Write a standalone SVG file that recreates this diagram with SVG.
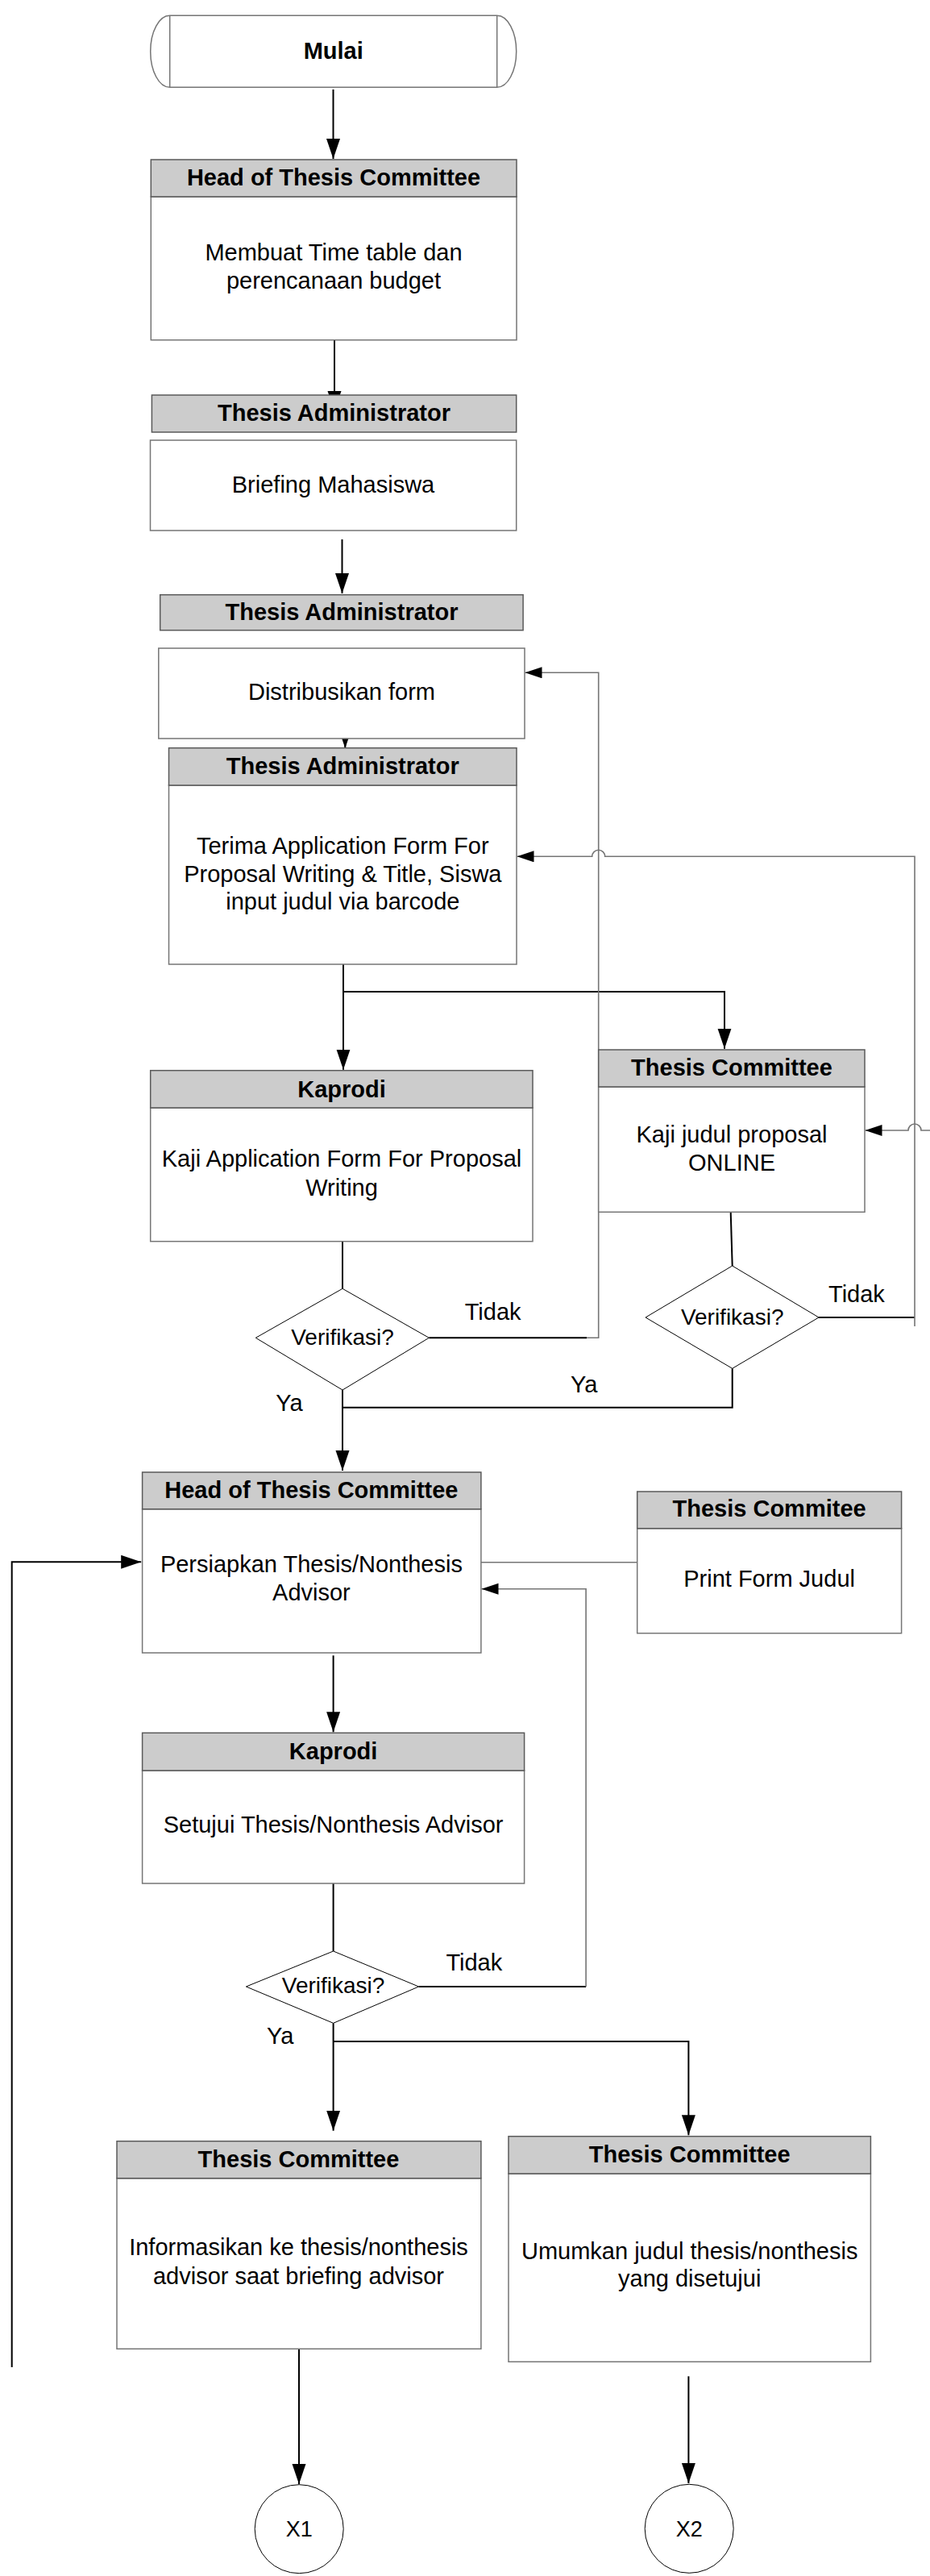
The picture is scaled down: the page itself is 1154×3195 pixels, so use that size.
<svg xmlns="http://www.w3.org/2000/svg" width="1154" height="3195" viewBox="0 0 1154 3195">
<style>
.t{font-family:"Liberation Sans",Arial,Helvetica,sans-serif;font-size:29px;text-anchor:middle;fill:#000}
.b{font-weight:bold}
.l{text-anchor:start}
.hd{fill:#cccccc;stroke:#5a5a5a;stroke-width:1.5}
.bd{fill:#fff;stroke:#757575;stroke-width:1.5}
.dm{fill:#fff;stroke:#000;stroke-width:1}
.k{fill:none;stroke:#000;stroke-width:2}
.g{fill:none;stroke:#757575;stroke-width:1.6}
</style>
<defs>
<marker id="ab" markerUnits="userSpaceOnUse" markerWidth="26" markerHeight="18" refX="25" refY="8.5" orient="auto"><path d="M0,0 L25,8.5 L0,17 z" fill="#000"/></marker>
<marker id="as" markerUnits="userSpaceOnUse" markerWidth="22" markerHeight="15" refX="21" refY="7" orient="auto"><path d="M0,0 L21,7 L0,14 z" fill="#000"/></marker>
</defs>
<rect width="1154" height="3195" fill="#fff"/>
<g id="connectors">
<path class="k" d="M413.5,111 V197" marker-end="url(#ab)"/>
<path class="k" d="M415,421.7 V510" marker-end="url(#ab)"/>
<path class="k" d="M424.5,669 V736" marker-end="url(#ab)"/>
<path class="k" d="M428.3,905 V928" marker-end="url(#ab)"/>
<path class="k" d="M426,1196 V1326.7" marker-end="url(#ab)"/>
<path class="k" d="M426,1230 H899 V1300.7" marker-end="url(#ab)"/>
<path class="k" d="M425,1539.7 V1598.3"/>
<path class="k" d="M532.3,1659.3 H728"/>
<path class="g" d="M728,1659.3 H742.7 V834.3 H651.5" marker-end="url(#as)"/>
<path class="k" d="M425,1724 V1824" marker-end="url(#ab)"/>
<path class="k" d="M906.7,1503.3 L908.7,1570"/>
<path class="k" d="M1016,1634 H1135"/>
<path class="g" d="M1135,1645 V1062.3 H750.7 A8,8 0 0 0 734.7,1062.3 H641.5" marker-end="url(#as)"/>
<path class="k" d="M908.7,1697.3 V1745.7 H425"/>
<path class="g" d="M1154,1402 H1143 A8,8 0 0 0 1127,1402 H1073.5" marker-end="url(#as)"/>
<path class="g" d="M597,1937.7 H790.7"/>
<path class="k" d="M413.6,2053.3 V2148.3" marker-end="url(#ab)"/>
<path class="k" d="M413.6,2336 V2420"/>
<path class="k" d="M519.6,2464 H727.1"/>
<path class="g" d="M727.1,2464 V1970.7 H597.5" marker-end="url(#as)"/>
<path class="k" d="M413.6,2509.3 V2642.7" marker-end="url(#ab)"/>
<path class="k" d="M413.6,2532 H854.4 V2648.3" marker-end="url(#ab)"/>
<path class="k" d="M371,2913.3 V3081" marker-end="url(#ab)"/>
<path class="k" d="M854.4,2947.3 V3080" marker-end="url(#ab)"/>
<path class="k" d="M14.7,2936 V1937.3 H175.2" marker-end="url(#ab)"/>
</g>
<g id="mulai">
<path d="M210.7,19.3 H616.7 A24,44.5 0 0 1 616.7,108.3 H210.7 A24,44.5 0 0 1 210.7,19.3 Z" fill="#fff" stroke="#757575" stroke-width="1.5"/>
<path d="M210.7,19.3 V108.3 M616.7,19.3 V108.3" stroke="#757575" stroke-width="1.5"/>
<text class="t b" x="413.7" y="72.7">Mulai</text>
</g>
<g id="head1">
<rect class="bd" x="187.3" y="244" width="453.7" height="177.7"/>
<rect class="hd" x="187.3" y="198" width="453.7" height="46"/>
<text class="t b" x="414" y="230">Head of Thesis Committee</text>
<text class="t" x="414" y="323.3">Membuat Time table dan</text>
<text class="t" x="414" y="358.3">perencanaan budget</text>
</g>
<g id="ta1">
<rect class="hd" x="188.4" y="490" width="452.3" height="46"/>
<rect class="bd" x="186.5" y="546" width="454.2" height="112"/>
<text class="t b" x="414.5" y="522">Thesis Administrator</text>
<text class="t" x="413.5" y="611">Briefing Mahasiswa</text>
</g>
<g id="ta2">
<rect class="hd" x="198.7" y="737.7" width="450.4" height="44"/>
<rect class="bd" x="196.8" y="804" width="454.2" height="112"/>
<text class="t b" x="424" y="769">Thesis Administrator</text>
<text class="t" x="424" y="868">Distribusikan form</text>
</g>
<g id="ta3">
<rect class="bd" x="209.5" y="974" width="431.5" height="222"/>
<rect class="hd" x="209.5" y="927.7" width="431.5" height="46.3"/>
<text class="t b" x="425.3" y="960">Thesis Administrator</text>
<text class="t" x="425.3" y="1059">Terima Application Form For</text>
<text class="t" x="425.3" y="1093.5">Proposal Writing &amp; Title, Siswa</text>
<text class="t" x="425.3" y="1128">input judul via barcode</text>
</g>
<g id="kaprodi1">
<rect class="bd" x="186.7" y="1374" width="474.3" height="165.7"/>
<rect class="hd" x="186.7" y="1327.7" width="474.3" height="46.3"/>
<text class="t b" x="424" y="1361">Kaprodi</text>
<text class="t" x="424" y="1446.7">Kaji Application Form For Proposal</text>
<text class="t" x="424" y="1483">Writing</text>
</g>
<g id="tc1">
<rect class="bd" x="742.7" y="1348" width="330.3" height="155.3"/>
<rect class="hd" x="742.7" y="1302" width="330.3" height="46"/>
<text class="t b" x="908" y="1334">Thesis Committee</text>
<text class="t" x="908" y="1416.7">Kaji judul proposal</text>
<text class="t" x="908" y="1451.7">ONLINE</text>
</g>
<g id="verif1">
<polygon class="dm" points="425,1598.3 532.3,1659.3 425,1724 317.3,1659.3"/>
<text class="t" x="425" y="1668.3" style="font-size:28px">Verifikasi?</text>
<text class="t l" x="576.7" y="1637.3">Tidak</text>
<text class="t l" x="342.3" y="1750">Ya</text>
</g>
<g id="verif2">
<polygon class="dm" points="908.7,1570 1016,1634 908.7,1697.3 801,1634"/>
<text class="t" x="908.7" y="1642.7" style="font-size:28px">Verifikasi?</text>
<text class="t l" x="1028" y="1615">Tidak</text>
<text class="t l" x="708" y="1726.7">Ya</text>
</g>
<g id="head2">
<rect class="bd" x="176.6" y="1871.7" width="420.3" height="178.3"/>
<rect class="hd" x="176.6" y="1826" width="420.3" height="45.7"/>
<text class="t b" x="386.4" y="1858">Head of Thesis Committee</text>
<text class="t" x="386.4" y="1950">Persiapkan Thesis/Nonthesis</text>
<text class="t" x="386.4" y="1985">Advisor</text>
</g>
<g id="printform">
<rect class="bd" x="790.7" y="1895.7" width="327.9" height="130"/>
<rect class="hd" x="790.7" y="1850" width="327.9" height="45.7"/>
<text class="t b" x="954.6" y="1881">Thesis Commitee</text>
<text class="t" x="954.6" y="1968.3">Print Form Judul</text>
</g>
<g id="kaprodi2">
<rect class="bd" x="176.6" y="2196" width="474" height="140"/>
<rect class="hd" x="176.6" y="2149.3" width="474" height="46.7"/>
<text class="t b" x="413.6" y="2182">Kaprodi</text>
<text class="t" x="413.6" y="2273.3">Setujui Thesis/Nonthesis Advisor</text>
</g>
<g id="verif3">
<polygon class="dm" points="413.6,2420 519.6,2464 413.6,2509.3 305.4,2464"/>
<text class="t" x="413.6" y="2472" style="font-size:28px">Verifikasi?</text>
<text class="t l" x="553.4" y="2444">Tidak</text>
<text class="t l" x="331" y="2535">Ya</text>
</g>
<g id="tc3">
<rect class="bd" x="145" y="2701.7" width="451.9" height="211.6"/>
<rect class="hd" x="145" y="2655.7" width="451.9" height="46"/>
<text class="t b" x="370.5" y="2688">Thesis Committee</text>
<text class="t" x="370.5" y="2797">Informasikan ke thesis/nonthesis</text>
<text class="t" x="370.5" y="2832.7">advisor saat briefing advisor</text>
</g>
<g id="tc4">
<rect class="bd" x="631" y="2696" width="449.4" height="233.3"/>
<rect class="hd" x="631" y="2649.7" width="449.4" height="46.3"/>
<text class="t b" x="855.7" y="2682">Thesis Committee</text>
<text class="t" x="855.7" y="2801.7">Umumkan judul thesis/nonthesis</text>
<text class="t" x="855.7" y="2836">yang disetujui</text>
</g>
<g id="x1">
<circle cx="371.2" cy="3136.7" r="55" fill="#fff" stroke="#000" stroke-width="1"/>
<text class="t" x="371.2" y="3146" style="font-size:27px">X1</text>
</g>
<g id="x2">
<circle cx="855.2" cy="3136.3" r="55" fill="#fff" stroke="#000" stroke-width="1"/>
<text class="t" x="855.2" y="3146" style="font-size:27px">X2</text>
</g>
</svg>
